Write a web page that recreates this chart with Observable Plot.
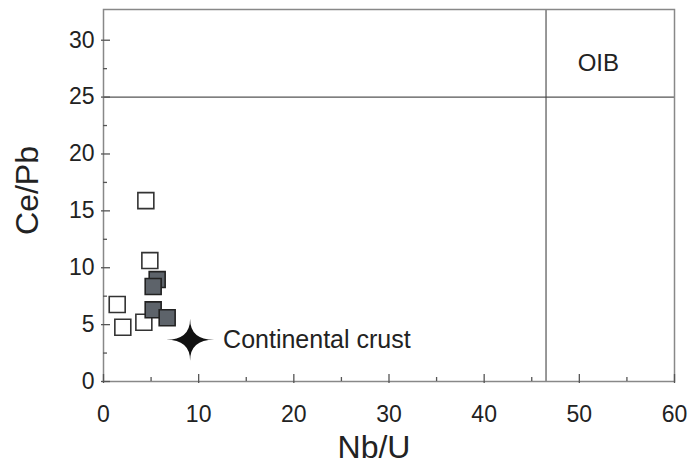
<!DOCTYPE html>
<html>
<head>
<meta charset="utf-8">
<script src="https://cdn.jsdelivr.net/npm/d3@7"></script>
<script src="https://cdn.jsdelivr.net/npm/@observablehq/plot@0.6"></script>
<style>
  body { margin: 0; background: #fff; }
  #chart svg { display: block; }
</style>
</head>
<body>
<div id="chart"></div>
<script>
// Open squares
const openNbU = [4.45, 4.87, 1.44, 2.03, 4.24];
const openCePb = [15.9, 10.63, 6.77, 4.77, 5.21];
// Filled squares
const filledNbU = [5.64, 5.22, 5.22, 6.69];
const filledCePb = [8.96, 8.35, 6.3, 5.6];
// Continental crust
const crustNbU = [9.1];
const crustCePb = [3.66];
const crustLabel = ["Continental crust"];
// OIB field boundaries
const oibNbU = [46.5];
const oibCePb = [25];
const oibLabel = ["OIB"];
const oibLabelNbU = [52];
const oibLabelCePb = [28];
// Ticks
const xMajor = [0, 10, 20, 30, 40, 50, 60];
const xMinor = [5, 15, 25, 35, 45, 55];
const yMajor = [0, 5, 10, 15, 20, 25, 30];
const yMinor = [2.5, 7.5, 12.5, 17.5, 22.5, 27.5];

const openData = openNbU.map((x, i) => ({x, y: openCePb[i]}));
const filledData = filledNbU.map((x, i) => ({x, y: filledCePb[i]}));
const crustData = crustNbU.map((x, i) => ({x, y: crustCePb[i], label: crustLabel[i]}));

const star = {
  draw(ctx, size) {
    const r = Math.sqrt(size / Math.PI);
    const w = r * 1.0, h = r * 0.875;
    ctx.moveTo(-w, 0);
    ctx.quadraticCurveTo(0, 0, 0, -h);
    ctx.quadraticCurveTo(0, 0, w, 0);
    ctx.quadraticCurveTo(0, 0, 0, h);
    ctx.quadraticCurveTo(0, 0, -w, 0);
    ctx.closePath();
  }
};

const font = "'Liberation Sans', Arial, Helvetica, sans-serif";
const tickColor = "#555";

const chart = Plot.plot({
  width: 699,
  height: 463,
  marginLeft: 103,
  marginRight: 25,
  marginTop: 9,
  marginBottom: 82,
  style: {fontFamily: font, background: "#fff", color: "#222"},
  x: {domain: [0, 60]},
  y: {domain: [0, 32.7]},
  marks: [
    Plot.ruleY(oibCePb, {stroke: "#555", strokeWidth: 1.1}),
    Plot.ruleX(oibNbU, {stroke: "#444", strokeWidth: 1.1}),
    Plot.frame({stroke: "#888", strokeWidth: 1.5}),
    // tick marks (mostly inward), anchored at the axis origin
    Plot.ruleX(xMajor, {y1: 0, y2: 0, insetTop: -7, insetBottom: -2, stroke: tickColor, strokeWidth: 1.3}),
    Plot.ruleX(xMinor, {y1: 0, y2: 0, insetTop: -4, insetBottom: 0, stroke: tickColor, strokeWidth: 1.3}),
    Plot.ruleY(yMajor, {x1: 0, x2: 0, insetLeft: -2, insetRight: -7, stroke: tickColor, strokeWidth: 1.3}),
    Plot.ruleY(yMinor, {x1: 0, x2: 0, insetLeft: 0, insetRight: -4, stroke: tickColor, strokeWidth: 1.3}),
    // tick labels
    Plot.axisX({ticks: xMajor, tickSize: 0, tickPadding: 24, label: null, fontSize: 23, fill: "#222"}),
    Plot.axisY({ticks: yMajor, tickSize: 0, tickPadding: 9, label: null, fontSize: 23, fill: "#222"}),
    // axis titles
    Plot.text(["Nb/U"], {frameAnchor: "bottom", dy: 76, dx: -15, lineAnchor: "bottom", fontSize: 32, fill: "#222"}),
    Plot.text(["Ce/Pb"], {frameAnchor: "left", dx: -76, dy: -5, rotate: -90, textAnchor: "middle", fontSize: 32, fill: "#222"}),
    // data
    Plot.dot(openData, {x: "x", y: "y", symbol: "square", r: 9, fill: "#fff", stroke: "#333", strokeWidth: 1.6}),
    Plot.dot(filledData, {x: "x", y: "y", symbol: "square", r: 9, fill: "#5d636a", stroke: "#222", strokeWidth: 1.6}),
    Plot.dot(crustData, {x: "x", y: "y", symbol: star, r: 24, fill: "#111", stroke: "none"}),
    Plot.text(crustData, {x: "x", y: "y", text: "label", textAnchor: "start", dx: 33, fontSize: 25, fill: "#222"}),
    Plot.text(oibLabel, {x: oibLabelNbU, y: oibLabelCePb, text: d => d, fontSize: 24, fill: "#222"})
  ]
});
document.getElementById("chart").appendChild(chart);
</script>
</body>
</html>
